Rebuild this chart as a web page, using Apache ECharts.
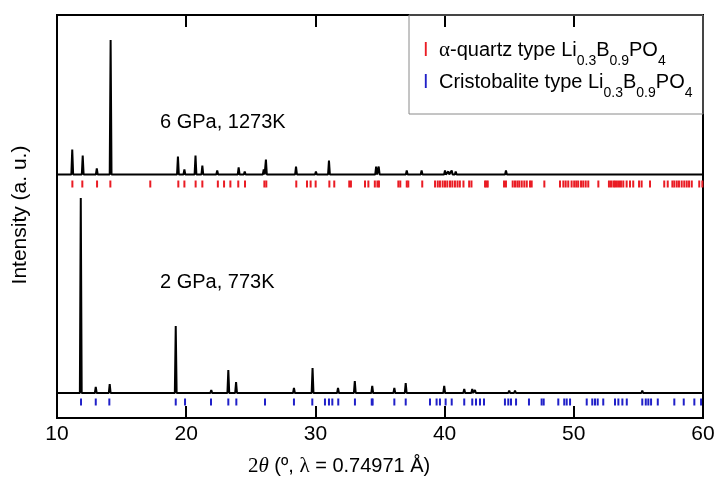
<!DOCTYPE html>
<html>
<head>
<meta charset="utf-8">
<script src="https://cdn.jsdelivr.net/npm/echarts@6/dist/echarts.min.js"></script>
<style>
  html, body { margin: 0; padding: 0; background: #fff; }
  #xrd { width: 727px; height: 479px; }
</style>
</head>
<body>
<div id="xrd"></div>
<script>
// 6 GPa, 1273K pattern (2theta, intensity a.u.)
var hiPeakPos = [11.18, 11.99, 13.08, 14.15, 17.22, 19.36, 19.86, 20.72, 21.25, 22.4, 23.39, 24.06, 24.53, 26.0, 26.17,
    28.5, 29.32, 30.04, 31.05, 32.7, 34.17, 34.7, 34.9, 37.07, 38.22, 39.26, 40.03, 40.29, 40.55, 40.86, 41.45, 41.97,
    43.13, 44.75, 45.97, 46.53, 46.79, 47.77, 48.8, 49.06, 49.57, 50.35, 50.87, 52.67, 53.32, 53.7, 54.48, 55.5, 56.28,
    58.09, 59.12, 59.77];
var hiPeakInt = [25, 19, 6, 134.5, 2, 18, 5, 19, 9, 4, 2, 7, 3, 5, 15,
    8, 2, 3, 14, 2, 1.5, 8, 8, 4, 4, 2, 4, 3, 4, 3, 2, 1.5,
    1, 4, 1, 1.5, 1.5, 1.5, 1, 1, 1, 1, 1, 1, 1.5, 1, 1, 1, 1,
    1, 1, 2];

// 2 GPa, 773K pattern
var loPeakPos = [11.84, 13.0, 14.08, 19.19, 21.94, 23.26, 23.86, 26.15, 28.34, 29.78, 30.78, 31.2, 31.75, 33.05, 34.4,
    36.11, 36.99, 38.87, 39.97, 40.47, 41.52, 42.14, 42.35, 42.66, 44.74, 45.0, 45.45, 46.45, 47.55, 48.75, 49.7,
    51.0, 51.6, 52.3, 53.2, 53.95, 55.3, 55.8, 57.8, 59.33];
var loPeakInt = [195, 6, 9, 67, 3, 23, 11, 1, 5, 25, 2, 2, 5, 12, 7,
    5, 10, 1.5, 7, 1, 4, 4, 3, 2, 1.5, 2.5, 2.5, 1, 1.5, 1, 1,
    1, 2, 1, 1, 1.5, 2.5, 1.5, 1, 1.5];

// reflection positions
var quartzRefl = [11.19, 11.96, 13.10, 14.13, 17.22, 19.39, 19.86, 20.73, 21.25, 22.45, 22.93, 23.42, 24.03, 24.55,
    26.05, 26.2, 28.52, 29.35, 29.63, 30.02, 31.08, 31.46, 32.62, 32.75, 33.84, 34.10, 34.6, 34.8, 34.92, 36.42,
    36.57, 37.07, 37.19, 38.27, 39.26, 39.47, 39.64, 39.85, 40.03, 40.21, 40.42, 40.6, 40.8, 41.0, 41.18, 41.46,
    41.9, 42.08, 43.13, 43.24, 43.34, 44.6, 44.75, 45.27, 45.45, 45.63, 45.78, 45.97, 46.17, 46.36, 46.61, 46.74,
    47.72, 48.93, 49.19, 49.37, 49.57, 49.83, 50.03, 50.19, 50.34, 50.56, 50.73, 50.92, 51.12, 51.9, 52.72, 52.88,
    53.06, 53.19, 53.34, 53.5, 53.65, 53.83, 54.09, 54.35, 54.6, 55.05, 55.25, 55.9, 57.0, 57.27, 57.63, 57.78,
    57.97, 58.14, 58.35, 58.55, 58.74, 58.92, 59.13, 59.71, 59.95];
var cristRefl = [11.86, 13.0, 14.05, 19.19, 19.91, 21.92, 23.26, 23.88, 26.1, 28.34, 29.76, 30.74, 31.05, 31.31,
    31.77, 33.06, 34.36, 34.43, 36.11, 36.99, 38.87, 39.38, 39.64, 40.08, 40.55, 41.52, 42.14, 42.43, 42.74, 43.05,
    44.67, 44.93, 45.14, 45.53, 46.53, 47.51, 47.67, 48.8, 49.26, 49.45, 49.71, 51.0, 51.43, 51.64, 51.85, 52.28,
    53.19, 53.45, 53.76, 54.1, 55.3, 55.57, 55.77, 55.98, 56.5, 57.78, 58.51, 59.33, 59.85];

var X_MIN = 10, X_MAX = 60;
var HI_BASE = 243.5, LO_BASE = 25;      // vertical offsets of the stacked patterns
var HI_REFL_Y = 234, LO_REFL_Y = 16;
var HALF_W = 0.07;

var RED = '#ea1c24', BLUE = '#2020c8';

function profile(pos, ints, base) {
    var pts = [[X_MIN, base]];
    pos.forEach(function (p, i) {
        pts.push([p - HALF_W, base], [p, base + ints[i]], [p + HALF_W, base]);
    });
    pts.push([X_MAX, base]);
    return pts;
}

function marks(pos, y) {
    return pos.map(function (p) { return [p, y]; });
}

var chart = echarts.init(document.getElementById('xrd'));

var font = '"Liberation Sans", Arial, sans-serif';
var serif = '"Liberation Serif", "Times New Roman", serif';

var tickStyle = { show: true, inside: true, length: 12, lineStyle: { color: '#000', width: 2 } };

// rich styles for one legend entry (subscripts pushed down with top padding)
function legendRich(color) {
    return {
        m: { fontFamily: font, fontSize: 20, color: color },
        g: { fontFamily: serif, fontSize: 21, color: color },
        s: { fontFamily: font, fontSize: 14, color: color, padding: [22, 0, 0, 0] }
    };
}

var option = {
    animation: false,
    grid: {
        left: 57, right: 24, top: 15, bottom: 61,
        show: true, borderColor: '#000', borderWidth: 2, backgroundColor: 'transparent'
    },
    xAxis: [
        {
            type: 'value', min: X_MIN, max: X_MAX, interval: 10,
            axisLine: { show: false },
            axisTick: tickStyle,
            splitLine: { show: false },
            axisLabel: { fontFamily: font, fontSize: 21, color: '#000', margin: 6 }
        },
        {
            type: 'value', position: 'top', min: X_MIN, max: X_MAX, interval: 10,
            axisLine: { show: false },
            axisTick: tickStyle,
            splitLine: { show: false },
            axisLabel: { show: false }
        }
    ],
    yAxis: {
        type: 'value', min: 0, max: 403,
        axisLine: { show: false }, axisTick: { show: false },
        axisLabel: { show: false }, splitLine: { show: false }
    },
    series: [
        {
            type: 'line', data: profile(hiPeakPos, hiPeakInt, HI_BASE), showSymbol: false,
            lineStyle: { color: '#000', width: 2 }, z: 3
        },
        {
            type: 'line', data: profile(loPeakPos, loPeakInt, LO_BASE), showSymbol: false,
            lineStyle: { color: '#000', width: 2 }, z: 3
        },
        {
            type: 'scatter', data: marks(quartzRefl, HI_REFL_Y), symbol: 'rect', symbolSize: [2, 7],
            itemStyle: { color: RED, opacity: 1 }
        },
        {
            type: 'scatter', data: marks(cristRefl, LO_REFL_Y), symbol: 'rect', symbolSize: [2, 7],
            itemStyle: { color: BLUE, opacity: 1 }
        }
    ],
    graphic: [
        {
            type: 'rect', x: 409, y: 15, shape: { width: 294, height: 99 },
            style: { fill: 'none', stroke: '#8a8a8a', lineWidth: 1 }, z: 1
        },
        {
            type: 'text', x: 423, y: 50,
            style: { text: 'I', font: '20px ' + font, fill: RED, verticalAlign: 'middle' }
        },
        {
            type: 'text', x: 439, y: 50,
            style: {
                text: '{g|α}{m|-quartz type Li}{s|0.3}{m|B}{s|0.9}{m|PO}{s|4}',
                verticalAlign: 'middle', rich: legendRich(RED)
            }
        },
        {
            type: 'text', x: 423, y: 82,
            style: { text: 'I', font: '20px ' + font, fill: BLUE, verticalAlign: 'middle' }
        },
        {
            type: 'text', x: 439, y: 82,
            style: {
                text: '{m|Cristobalite type Li}{s|0.3}{m|B}{s|0.9}{m|PO}{s|4}',
                verticalAlign: 'middle', rich: legendRich(BLUE)
            }
        },
        {
            type: 'text', x: 160, y: 122,
            style: { text: '6 GPa, 1273K', font: '20px ' + font, fill: '#000', verticalAlign: 'middle' }
        },
        {
            type: 'text', x: 160, y: 282,
            style: { text: '2 GPa, 773K', font: '20px ' + font, fill: '#000', verticalAlign: 'middle' }
        },
        {
            type: 'text', x: 20, y: 215, rotation: Math.PI / 2,
            style: { text: 'Intensity (a. u.)', font: '21px ' + font, fill: '#000', align: 'center', verticalAlign: 'middle' }
        },
        {
            type: 'text', x: 248, y: 466,
            style: {
                text: '{n|2}{i|θ}{a| (º, }{n|λ}{a| = 0.74971 Å)}',
                verticalAlign: 'middle',
                rich: {
                    n: { fontFamily: serif, fontSize: 21, color: '#000' },
                    i: { fontFamily: serif, fontStyle: 'italic', fontSize: 21, color: '#000' },
                    a: { fontFamily: font, fontSize: 20, color: '#000' }
                }
            }
        }
    ]
};

chart.setOption(option);
</script>
</body>
</html>
